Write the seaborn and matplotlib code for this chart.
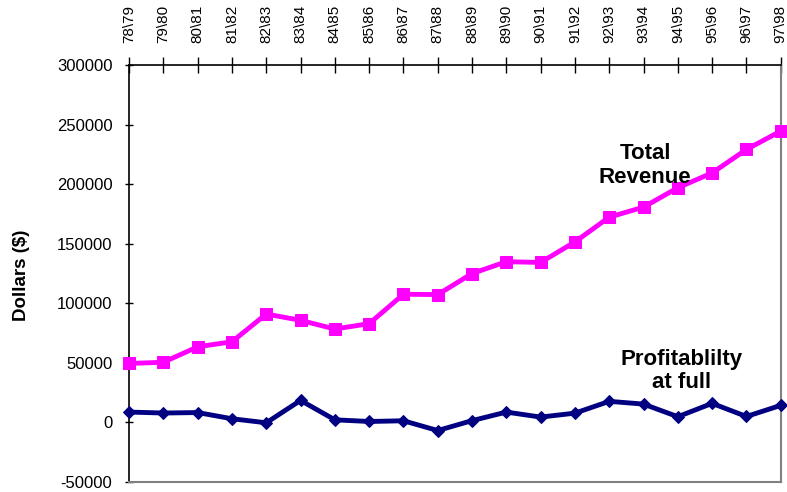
import numpy as np
import pandas as pd
import matplotlib
matplotlib.use('Agg')
import matplotlib.pyplot as plt
import seaborn as sns

years = ['78\\79', '79\\80', '80\\81', '81\\82', '82\\83', '83\\84', '84\\85',
         '85\\86', '86\\87', '87\\88', '88\\89', '89\\90', '90\\91', '91\\92',
         '92\\93', '93\\94', '94\\95', '95\\96', '96\\97', '97\\98']

revenue = [49500, 50500, 63500, 67700, 91000, 85700, 78400, 82900, 107600, 107300,
           125000, 134900, 134300, 151500, 172300, 180700, 197000, 209400, 229100, 244500]

profit = [8700, 7900, 8300, 3100, -300, 18500, 2200, 800, 1400, -6800,
          1500, 8700, 4500, 7800, 17700, 15400, 4800, 16000, 5000, 14300]

df = pd.DataFrame({'idx': np.arange(len(years)), 'year': years,
                   'revenue': revenue, 'profit': profit})

sns.set_style('white')
plt.rcParams['font.family'] = ['Liberation Sans', 'DejaVu Sans']
plt.rcParams.update({'text.color': 'black', 'axes.labelcolor': 'black',
                     'xtick.color': 'black', 'ytick.color': 'black'})

fig = plt.figure(figsize=(7.87, 4.92), dpi=100)
ax = fig.add_axes([0.164, 0.0203, 0.828, 0.8476])

sns.lineplot(data=df, x='idx', y='revenue', ax=ax, color='#FF00FF', linewidth=3.5,
             marker='s', markersize=8, markeredgecolor='#FF00FF', clip_on=False, zorder=3)
sns.lineplot(data=df, x='idx', y='profit', ax=ax, color='#000080', linewidth=3.5,
             marker='D', markersize=6, markeredgecolor='#000080', clip_on=False, zorder=3)

ax.set_xlim(0, len(years) - 1)
ax.set_ylim(-50000, 300000)
ax.set_yticks(np.arange(-50000, 300001, 50000))
ax.set_yticklabels([str(v) for v in range(-50000, 300001, 50000)], fontsize=12)

ax.xaxis.tick_top()
ax.set_xticks(df['idx'])
ax.set_xticklabels(years, rotation=90, fontsize=11)
ax.tick_params(axis='x', direction='inout', length=11, width=1, pad=10)
ax.tick_params(axis='y', direction='inout', length=6, width=1, left=True, pad=9)

ax.set_xlabel('')
ax.set_ylabel('')
fig.text(22 / 787, 0.44, 'Dollars ($)', rotation=90, ha='center', va='center',
         fontsize=13.5, fontweight='bold')

for s in ['left', 'top']:
    ax.spines[s].set_color('black')
    ax.spines[s].set_linewidth(1.2)
for s in ['right', 'bottom']:
    ax.spines[s].set_color('#808080')
    ax.spines[s].set_linewidth(1.5)

ax.text(15.05, 215500, 'Total\nRevenue', ha='center', va='center', fontsize=16,
        fontweight='bold', linespacing=1.15)
ax.text(16.1, 43000, 'Profitablilty\nat full', ha='center', va='center', fontsize=16,
        fontweight='bold', linespacing=1.15)

fig.savefig('out.png', dpi=100)
